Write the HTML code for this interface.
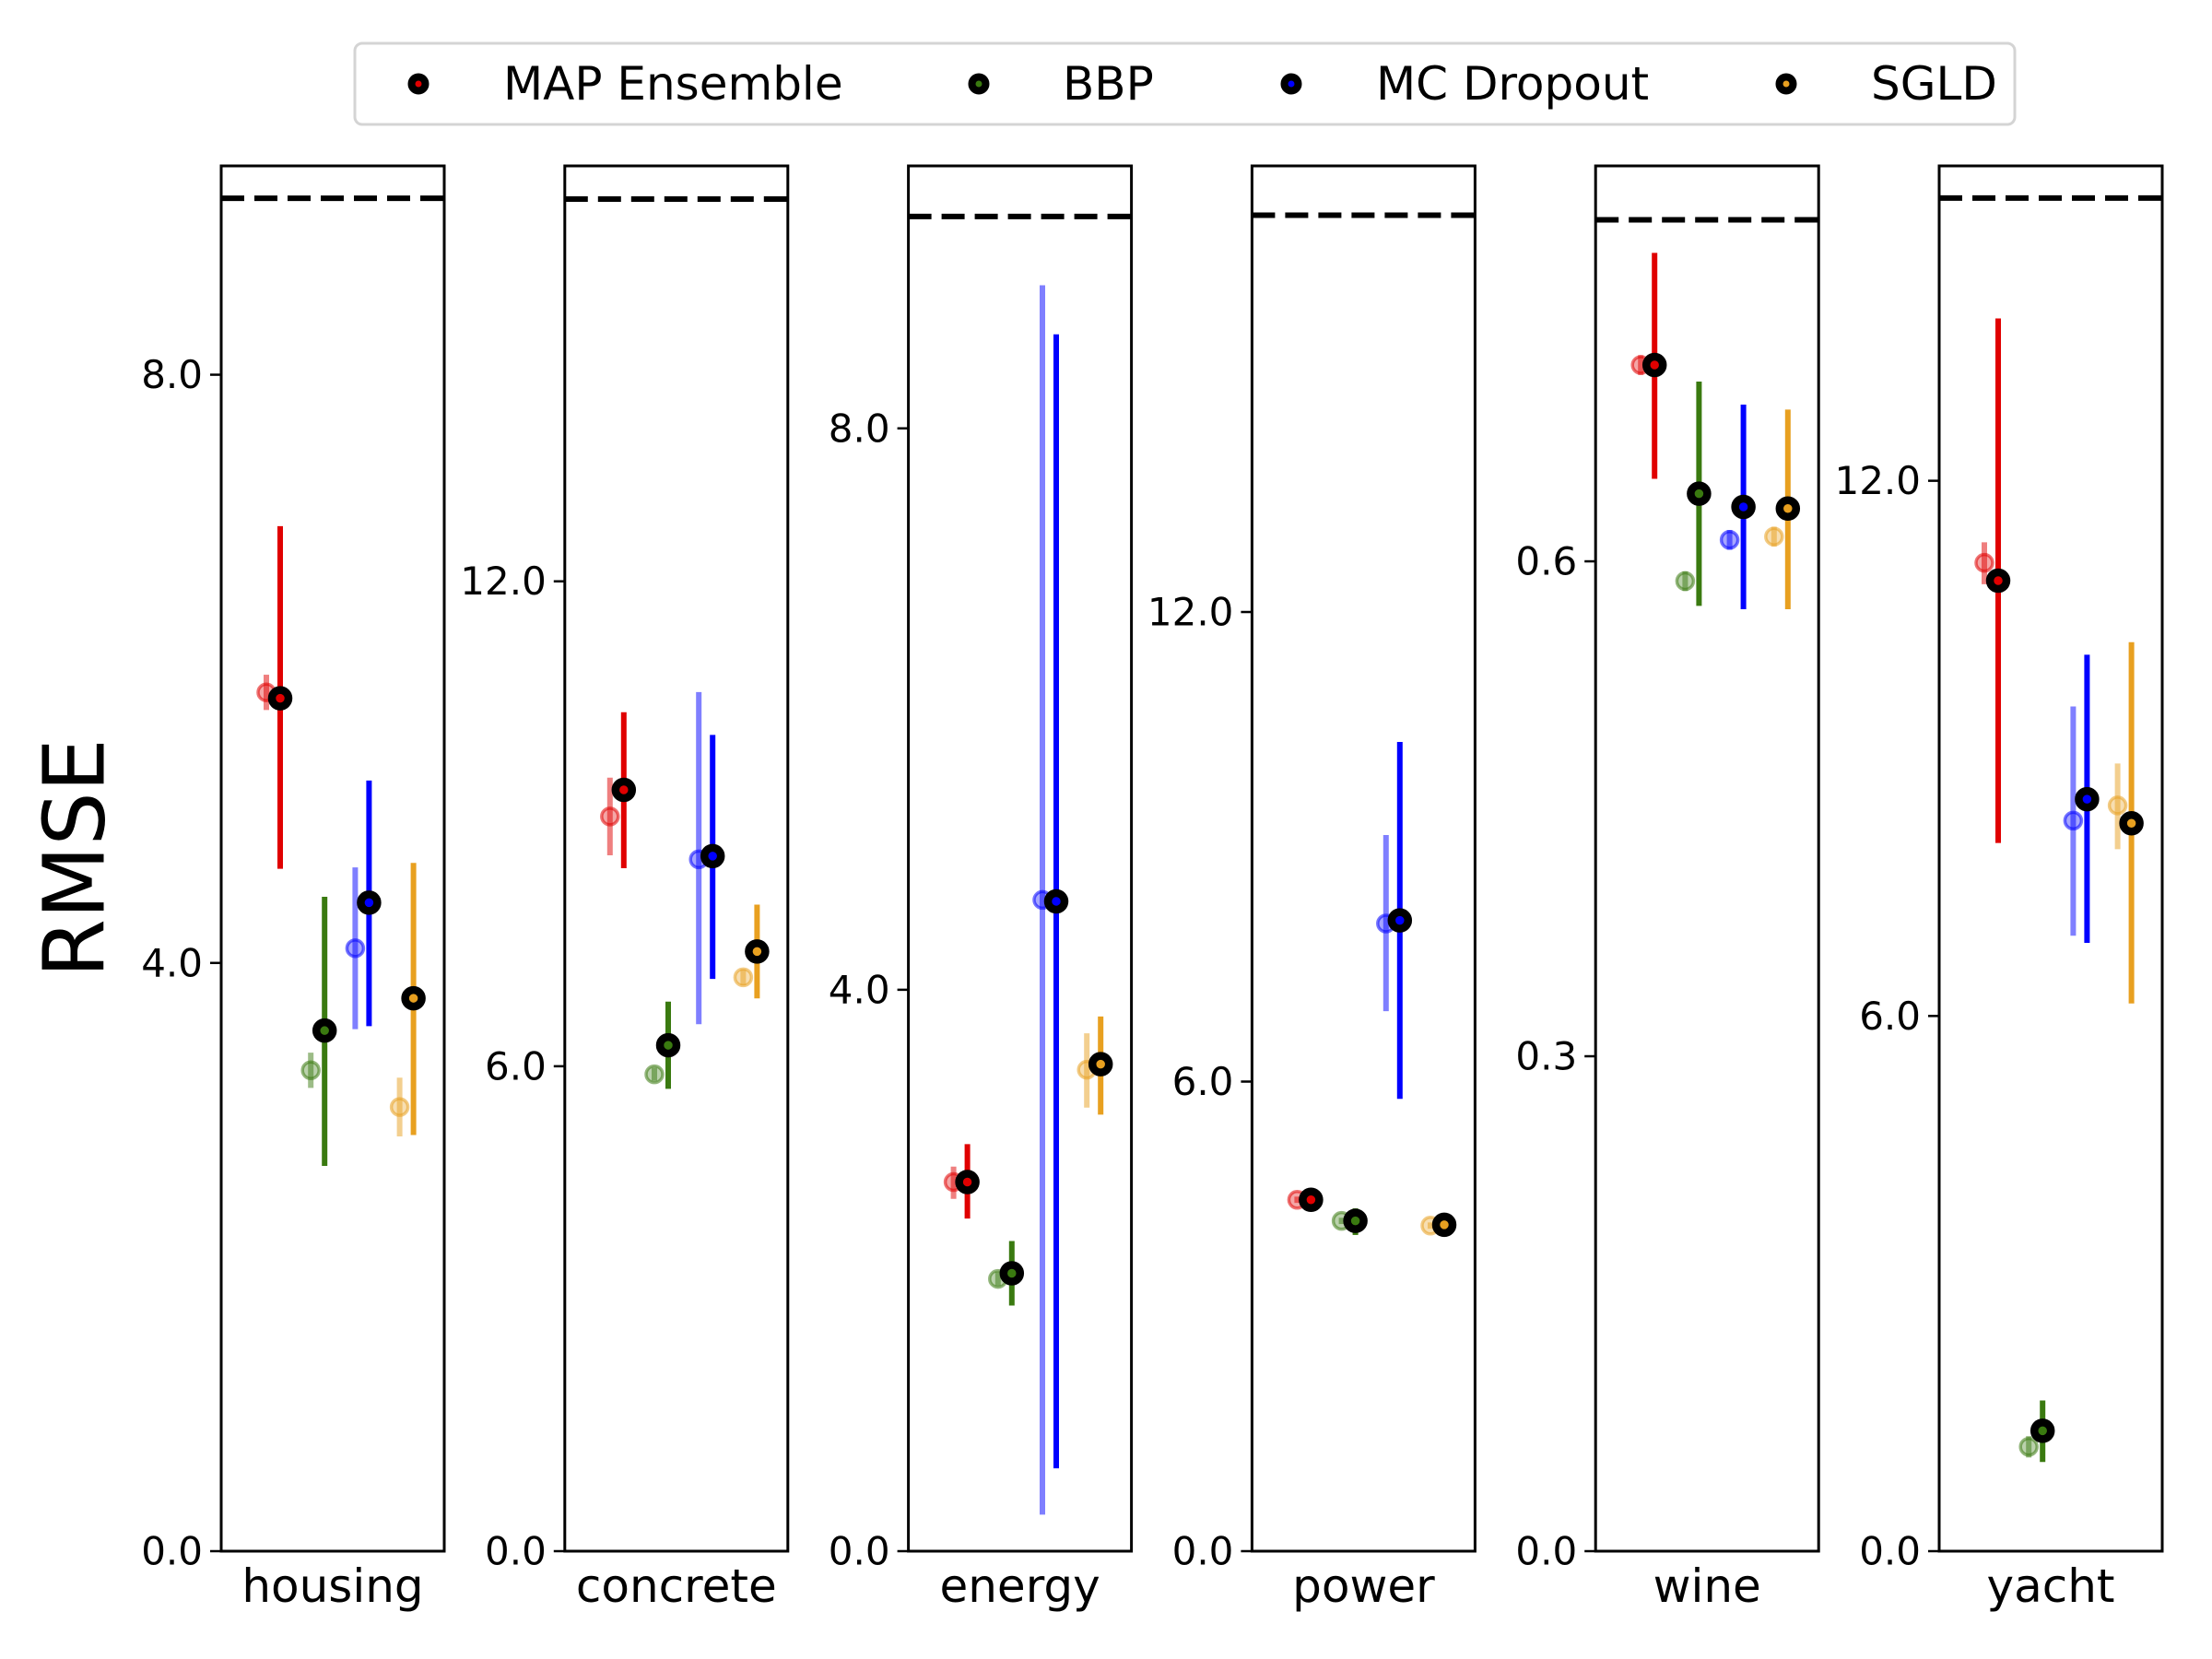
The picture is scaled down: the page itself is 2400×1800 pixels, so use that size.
<!DOCTYPE html>
<html><head><meta charset="utf-8"><title>RMSE comparison</title>
<style>
html,body{margin:0;padding:0;background:#fff;}
svg{display:block;font-family:"DejaVu Sans","Liberation Sans",sans-serif;}
</style></head>
<body>
<svg id="chart" width="2400" height="1800" viewBox="0 0 2400 1800" xmlns="http://www.w3.org/2000/svg">
  <rect x="0" y="0" width="2400" height="1800" fill="#fff"/>
  <g id="legend">
    <rect x="385" y="47" width="1801" height="88" rx="8" fill="#fff" stroke="#d4d4d4" stroke-width="3"/>
  </g>
  <text x="81" y="931" font-size="92" text-anchor="middle" dominant-baseline="central" transform="rotate(-90 81 931)">RMSE</text>
  <g id="panels"></g>
</svg>
<script>
// ---- data ----
const datasets = ["housing","concrete","energy","power","wine","yacht"];
const methods = ["MAP Ensemble","BBP","MC Dropout","SGLD"];
const yMaxes = [9.42, 17.14, 9.87, 17.7, 0.8397, 15.53];
const baselineValues = [9.2, 16.73, 9.51, 17.07, 0.807, 15.17];
const tickValues = [[0,4,8],[0,6,12],[0,4,8],[0,6,12],[0,0.3,0.6],[0,6,12]];
const tickLabels = [["0.0","4.0","8.0"],["0.0","6.0","12.0"],["0.0","4.0","8.0"],["0.0","6.0","12.0"],["0.0","0.3","0.6"],["0.0","6.0","12.0"]];
// solid (main) estimates, per dataset: [MAP, BBP, MCD, SGLD]
const mainMean = [[5.80,3.54,4.41,3.76],[9.42,6.26,8.60,7.42],[2.63,1.98,4.63,3.47],[4.49,4.22,8.06,4.17],[0.719,0.641,0.633,0.632],[10.88,1.35,8.43,8.16]];
const mainLow  = [[4.64,2.62,3.57,2.83],[8.45,5.72,7.08,6.84],[2.37,1.75,0.59,3.11],[4.42,4.04,5.78,4.10],[0.650,0.573,0.571,0.571],[7.94,1.00,6.82,6.14]];
const mainHigh = [[6.97,4.45,5.24,4.68],[10.38,6.80,10.10,8.00],[2.90,2.21,8.67,3.81],[4.56,4.38,10.34,4.24],[0.787,0.709,0.695,0.692],[13.82,1.69,10.05,10.19]];
// faded (reference) estimates
const refMean = [[5.84,3.27,4.10,3.02],[9.09,5.90,8.56,7.10],[2.63,1.94,4.64,3.43],[4.49,4.22,8.02,4.16],[0.719,0.588,0.613,0.615],[11.08,1.17,8.19,8.36]];
const refLow  = [[5.72,3.15,3.55,2.82],[8.61,5.82,6.52,7.00],[2.51,1.89,0.26,3.16],[4.45,4.18,6.90,4.12],[0.713,0.582,0.607,0.609],[10.84,1.05,6.90,7.87]];
const refHigh = [[5.96,3.39,4.65,3.22],[9.57,5.98,10.63,7.20],[2.74,1.99,9.02,3.69],[4.53,4.26,9.15,4.20],[0.725,0.594,0.619,0.621],[11.31,1.29,9.47,8.83]];
const colors = ["#e00000","#3a7a10","#0000ff","#e8a020"];

// ---- layout ----
const NS = "http://www.w3.org/2000/svg";
const TOP = 180, BOTTOM = 1683, AX_W = 242, AX_STEP = 372.8, AX_LEFT0 = 240;
const panels = document.getElementById('panels');
function mk(tag, attrs, parent){ const e=document.createElementNS(NS,tag); for(const k in attrs) e.setAttribute(k,attrs[k]); (parent||panels).appendChild(e); return e; }

datasets.forEach((ds, d) => {
  const left = AX_LEFT0 + d*AX_STEP;
  const y = v => BOTTOM - v / yMaxes[d] * (BOTTOM - TOP);
  const xMain = i => left + 64 + 48.2*i;
  const xRef = i => xMain(i) - 15;
  const g = mk('g', {});
  
  

  const dl = mk('line', {x1:left, x2:left+AX_W, y1:y(baselineValues[d]), y2:y(baselineValues[d]), stroke:'#000','stroke-width':6,'stroke-dasharray':'25 11'}, g);
  
  

  tickValues[d].forEach((tv, t) => {
    const ty = y(tv);
    const tk = mk('line', {x1:left-12, x2:left, y1:ty, y2:ty, stroke:'#000','stroke-width':2.5}, g);
    
    
    const tl = mk('text', {x:left-20, y:ty, 'font-size':42, 'text-anchor':'end', 'dominant-baseline':'central'}, g);
    tl.textContent = tickLabels[d][t];
    
    
  });

  methods.forEach((m, i) => {
    const c = colors[i];
    const rb = mk('line', {x1:xRef(i), x2:xRef(i), y1:y(refLow[d][i]), y2:y(refHigh[d][i]), stroke:c, 'stroke-width':6, 'stroke-opacity':0.5}, g);
    
    
    const rp = mk('circle', {cx:xRef(i), cy:y(refMean[d][i]), r:9, fill:c, 'fill-opacity':0.35, stroke:c, 'stroke-width':3.5, 'stroke-opacity':0.55}, g);
    
    
    const mb = mk('line', {x1:xMain(i), x2:xMain(i), y1:y(mainLow[d][i]), y2:y(mainHigh[d][i]), stroke:c, 'stroke-width':6}, g);
    
    
    const mp = mk('circle', {cx:xMain(i), cy:y(mainMean[d][i]), r:9, fill:c, stroke:'#000', 'stroke-width':8.5}, g);
    
    
  });

  const fr = mk('rect', {x:left, y:TOP, width:AX_W, height:BOTTOM-TOP, fill:'none', stroke:'#000', 'stroke-width':3}, g);
  
  
  const xl = mk('text', {x:left+AX_W/2, y:1738, 'font-size':50, 'text-anchor':'middle'}, g);
  xl.textContent = ds;
  
  
});

const legend = document.getElementById('legend');
const legMarkerX = [454, 1062, 1401, 1938];
const legTextX = [546, 1153, 1493, 2030];
methods.forEach((m, i) => {
  const lc = mk('circle', {cx:legMarkerX[i], cy:91, r:7.5, fill:colors[i], stroke:'#000', 'stroke-width':8}, legend);
  
  
  const lt = mk('text', {x:legTextX[i], y:91, 'font-size':50, 'dominant-baseline':'central'}, legend);
  lt.textContent = m;
  
  
});
</script>
</body></html>
